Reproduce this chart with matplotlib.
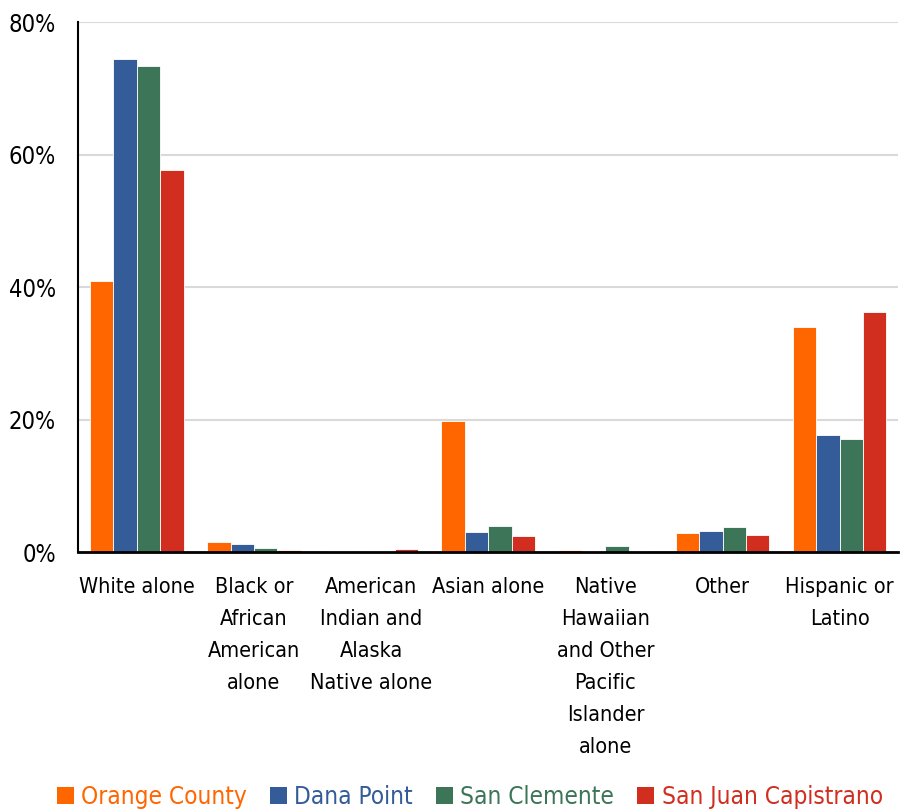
import matplotlib
matplotlib.use('Agg')
import matplotlib.pyplot as plt
import numpy as np
from matplotlib.ticker import FuncFormatter

plt.rcParams['font.family'] = ['DejaVu Sans']
plt.rcParams['font.stretch'] = 'condensed'

categories = ['White alone', 'Black or\nAfrican\nAmerican\nalone',
              'American\nIndian and\nAlaska\nNative alone', 'Asian alone',
              'Native\nHawaiian\nand Other\nPacific\nIslander\nalone',
              'Other', 'Hispanic or\nLatino']
series = ['Orange County', 'Dana Point', 'San Clemente', 'San Juan Capistrano']
orange_county = [40.9, 1.5, 0.2, 19.8, 0.3, 2.9, 34.0]
dana_point = [74.4, 1.2, 0.1, 3.0, 0.1, 3.2, 17.7]
san_clemente = [73.4, 0.6, 0.1, 3.9, 0.9, 3.8, 17.1]
san_juan = [57.7, 0.3, 0.4, 2.4, 0.2, 2.6, 36.2]
colors = ['#FF6600', '#335C99', '#3D7558', '#D12E1F']

values = [orange_county, dana_point, san_clemente, san_juan]

fig = plt.figure(figsize=(9, 8.1), dpi=100)
ax = fig.add_axes([0.087, 0.3185, 0.911, 0.6543])
ax.set_axisbelow(True)

x = np.arange(len(categories))
width = 0.2
for i, (vals, name, c) in enumerate(zip(values, series, colors)):
    ax.bar(x + (i - 1.5) * width, vals, width, color=c, label=name,
           edgecolor='white', linewidth=0.6)

ax.set_xlim(-0.5, len(categories) - 0.5)
ax.set_ylim(0, 80)
ax.set_yticks([0, 20, 40, 60, 80])
ax.yaxis.set_major_formatter(FuncFormatter(lambda v, p: f'{v:.0f}%'))
ax.yaxis.grid(True, color='#d9d9d9', linewidth=1.5)
ax.set_xticks(x)
ax.set_xticklabels(categories, fontsize=15.5, linespacing=1.75)
ax.tick_params(axis='both', length=0)
ax.tick_params(axis='x', pad=18)
ax.tick_params(axis='y', pad=16, labelsize=17)
for s in ['top', 'right']:
    ax.spines[s].set_visible(False)
ax.spines['left'].set_linewidth(1.5)
ax.spines['bottom'].set_linewidth(2)

leg = fig.legend(loc='lower center', bbox_to_anchor=(0.522, -0.026), ncol=4,
                 frameon=False, fontsize=17.5, handlelength=0.7, handleheight=0.7,
                 handletextpad=0.3, columnspacing=0.95, labelcolor=colors)
for h in leg.legend_handles:
    h.set_edgecolor('none')

fig.savefig('out.png', dpi=100)
